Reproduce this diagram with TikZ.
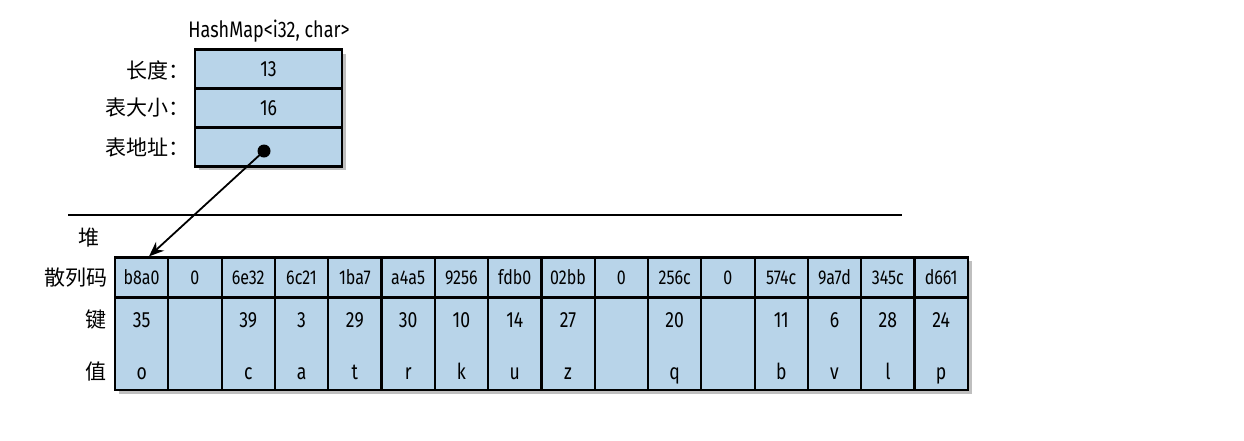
\documentclass[tikz,border=0pt]{standalone}
\usepackage{fontspec}
\setmainfont{Fira Sans}[FakeStretch=0.8]
\newfontfamily\cjk{Noto Sans CJK SC}
\usetikzlibrary{arrows.meta}
\definecolor{cellblue}{RGB}{184,212,233}
\tikzset{
  cellbase/.style={draw=black, fill=cellblue, line width=2.2pt, inner sep=0pt, minimum width=53.3pt},
  hashcell/.style={cellbase, minimum height=40pt, font=\fontsize{20}{20}\selectfont},
  lowcell/.style={cellbase, minimum height=92pt},
  celltext/.style={inner sep=0pt, text height=15pt, text depth=0pt, font=\fontsize{22}{22}\selectfont},
  fieldcell/.style={draw=black, fill=cellblue, line width=2.2pt, inner sep=0pt, minimum width=147pt, minimum height=39pt, font=\fontsize{22}{22}\selectfont},
  lbl/.style={inner sep=0pt, font=\cjk\fontsize{21}{21}\selectfont},
  shadowbox/.style={fill=black!25, draw=none},
}
\begin{document}
\begin{tikzpicture}[x=1pt,y=-1pt]
\useasboundingbox (0,0) rectangle (1244,440);
% title
\node[inner sep=0pt, font=\fontsize{22.5}{22.5}\selectfont] (title) at (269,31) {HashMap<i32, char>};
% shadows
\fill[shadowbox] (199,54) rectangle (346,170);
\fill[shadowbox] (119,261) rectangle (972,394);
% top box
\node[fieldcell] (len)  at (268.5,69)  {13};
\node[fieldcell] (size) at (268.5,108) {16};
\node[fieldcell] (addr) at (268.5,147) {};
\node[lbl, anchor=east] (lenl)  at (190,70)  {长度：};
\node[lbl, anchor=east] (sizel) at (190,108) {表大小：};
\node[lbl, anchor=east] (addrl) at (190,148) {表地址：};
\coordinate (dot) at (264,151);
% heap line
\coordinate (hl1) at (68,215);
\coordinate (hl2) at (902,215);
\draw[line width=1.5pt] (hl1) -- (hl2);
\node[lbl] (heap) at (89,238) {堆};
% table
\foreach \h/\k/\v [count=\i] in {b8a0/35/o, 0/{}/{}, 6e32/39/c, 6c21/3/a, 1ba7/29/t, a4a5/30/r, 9256/10/k, fdb0/14/u, 02bb/27/z, 0/{}/{}, 256c/20/q, 0/{}/{}, 574c/11/b, 9a7d/6/v, 345c/28/l, d661/24/p} {
  \node[hashcell] (h\i) at ({115+53.3*(\i-0.5)},277.5) {\h};
  \node[lowcell] (c\i) at ({115+53.3*(\i-0.5)},344) {};
  \node[celltext] (k\i) at ({115+53.3*(\i-0.5)},320) {\k};
  \node[celltext] (v\i) at ({115+53.3*(\i-0.5)},372) {\v};
}
\node[lbl, anchor=east] (hashl) at (108,278) {散列码};
\node[lbl] (keyl) at (96,320) {键};
\node[lbl] (vall) at (96,372) {值};
% pointer
\fill (dot) circle (6.5pt);
\draw[line width=1.8pt, -{Stealth[length=15pt,width=12pt]}] (dot) -- (h1.north west -| 149,0) ;
\end{tikzpicture}
\end{document}
